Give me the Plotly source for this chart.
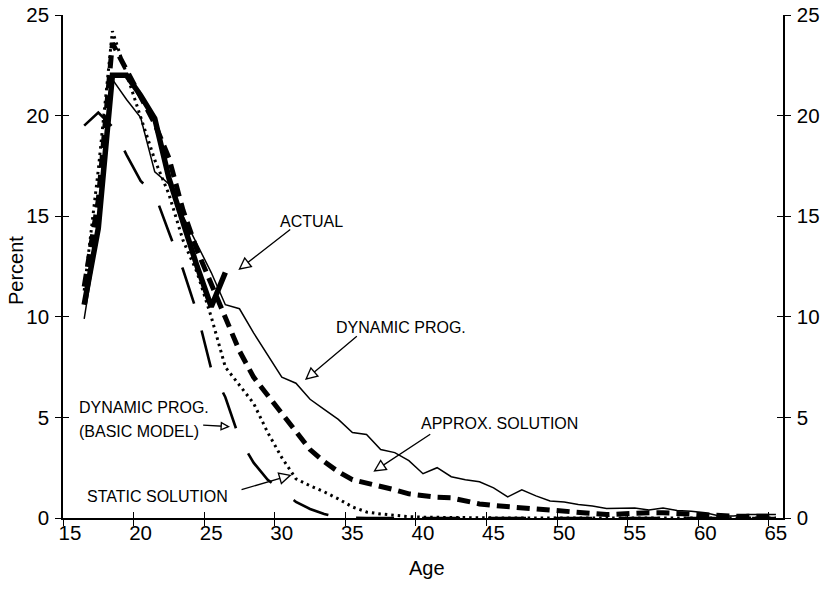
import math
import plotly.graph_objects as go

# ---------------- data ----------------
ages = list(range(16, 66))
ages_actual = list(range(16, 27))

actual = [10.6, 14.4, 22.0, 22.0, 21.0, 19.85, 16.9, 14.6, 12.5, 10.5, 12.2]

dynamic_prog = [9.9, 14.3, 21.8, 20.8, 19.9, 17.2, 16.6, 15.0, 13.6, 12.2,
                10.6, 10.4, 9.2, 8.1, 7.0, 6.7, 5.9, 5.4, 4.9, 4.25,
                4.15, 3.4, 3.25, 2.85, 2.2, 2.5, 2.05, 1.9, 1.8, 1.5,
                1.05, 1.4, 1.1, 0.85, 0.8, 0.67, 0.6, 0.47, 0.5, 0.5,
                0.4, 0.5, 0.37, 0.34, 0.26, 0.1, 0.1, 0.17, 0.17, 0.17]

approx_solution = [11.5, 15.8, 23.6, 22.3, 21.0, 19.6, 17.9, 15.3, 13.3, 11.6,
                   10.0, 8.3, 7.0, 6.1, 5.1, 4.2, 3.4, 2.8, 2.3, 1.9,
                   1.75, 1.58, 1.4, 1.2, 1.1, 1.03, 1.0, 0.85, 0.7, 0.62,
                   0.56, 0.5, 0.46, 0.42, 0.37, 0.28, 0.2, 0.17, 0.2, 0.25,
                   0.26, 0.26, 0.22, 0.17, 0.12, 0.09, 0.09, 0.09, 0.09, 0.09]

static_solution = [11.3, 17.3, 24.2, 22.1, 19.9, 17.8, 16.1, 13.8, 12.2, 10.0,
                   7.5, 6.6, 5.7, 4.25, 3.0, 1.95, 1.6, 1.3, 0.95, 0.55,
                   0.3, 0.2, 0.12, 0.07, 0.04, 0.03, 0.02, 0.0, 0.0, 0.0,
                   0.0, 0.0, 0.0, 0.0, 0.0, 0.0, 0.0, 0.0, 0.0, 0.0,
                   0.0, 0.0, 0.0, 0.0, 0.0, 0.0, 0.0, 0.0, 0.0, 0.0]

basic_model = [19.5, 20.15, 19.45, 18.05, 16.75, 16.1, 14.2, 12.35, 10.2, 7.4,
               6.0, 3.95, 2.75, 1.9, 1.35, 0.8, 0.45, 0.2, 0.03, 0.0,
               0.0, 0.0, 0.0, 0.0, 0.0, 0.0, 0.0, 0.0, 0.0, 0.0,
               0.0, 0.0, 0.0, 0.0, 0.0, 0.0, 0.0, 0.0, 0.0, 0.0,
               0.0, 0.0, 0.0, 0.0, 0.0, 0.0, 0.0, 0.0, 0.0, 0.0]

x_tick_labels = ["15", "20", "25", "30", "35", "40", "45", "50", "55", "60", "65"]
x_tick_bounds = [14.5, 19.5, 24.5, 29.5, 34.5, 39.5, 44.5, 49.5, 54.5, 59.5, 64.5]
y_ticks = [0, 5, 10, 15, 20, 25]

# ---------------- figure ----------------
FONT = "Liberation Sans, Arial, Helvetica, sans-serif"
W, H = 823, 586
ML, MR, MT, MB = 63, 40, 15, 68
XR = [14.5, 65.5]
YR = [0, 25]

fig = go.Figure()

# every axis (incl. the overlaid ones used for the crossing tick marks) carries a trace
fig.add_trace(go.Scatter(x=ages, y=dynamic_prog, mode="lines", xaxis="x", yaxis="y",
                         line=dict(color="black", width=1.5), name="Dynamic prog."))
fig.add_trace(go.Scatter(x=ages, y=basic_model, mode="lines", xaxis="x2", yaxis="y",
                         line=dict(color="black", width=2.6, dash="38px,28px"),
                         name="Dynamic prog. (basic model)"))
fig.add_trace(go.Scatter(x=ages, y=static_solution, mode="lines", xaxis="x", yaxis="y2",
                         line=dict(color="black", width=3, dash="2.5px,4px"),
                         name="Static solution"))
fig.add_trace(go.Scatter(x=ages, y=approx_solution, mode="lines", xaxis="x", yaxis="y3",
                         line=dict(color="black", width=5, dash="13px,7px"),
                         name="Approx. solution"))
fig.add_trace(go.Scatter(x=ages_actual, y=actual, mode="lines", xaxis="x", yaxis="y4",
                         line=dict(color="black", width=5.5), name="Actual"))

tickfont = dict(family=FONT, size=20.5, color="black")
common = dict(automargin=False, showgrid=False, zeroline=False, tickcolor="black",
              tickwidth=1.2, ticklen=6, tickmode="array", ticklabeloverflow="allow")

fig.update_layout(
    width=W, height=H,
    margin=dict(l=ML, r=MR, t=MT, b=MB, autoexpand=False),
    paper_bgcolor="white", plot_bgcolor="white",
    showlegend=False,
    font=dict(family=FONT, color="black"),
    xaxis=dict(range=XR, tickvals=x_tick_bounds, ticktext=x_tick_labels,
               ticklabelshift=7, ticks="outside",
               showline=True, linecolor="black", linewidth=1.5,
               tickfont=tickfont, ticklabelstandoff=-10, **common),
    xaxis2=dict(range=XR, overlaying="x", anchor="y", side="bottom",
                tickvals=x_tick_bounds, ticks="inside",
                showticklabels=False, showline=False, **common),
    yaxis=dict(range=YR, tickvals=y_ticks, ticks="outside", anchor="x",
               showline=True, linecolor="black", linewidth=1.5, tickfont=tickfont,
               ticklabelstandoff=2, **common),
    yaxis2=dict(range=YR, overlaying="y", anchor="x", side="right",
                tickvals=y_ticks, ticks="outside", ticklabelstandoff=2,
                showline=True, linecolor="black", linewidth=1.5, tickfont=tickfont, **common),
    yaxis3=dict(range=YR, overlaying="y", anchor="x", side="left",
                tickvals=y_ticks, ticks="inside",
                showticklabels=False, showline=False, **common),
    yaxis4=dict(range=YR, overlaying="y", anchor="x", side="right",
                tickvals=y_ticks, ticks="inside",
                showticklabels=False, showline=False, **common),
)

# pixel scale of the data axes (used only to orient the hollow arrow heads)
KX = (W - ML - MR) / (XR[1] - XR[0])
KY = (H - MT - MB) / (YR[1] - YR[0])

ann_font = dict(family=FONT, size=16, color="black")
title_font = dict(family=FONT, size=20, color="black")
annotations = [
    dict(text="Percent", xref="paper", yref="paper", x=-0.0653, y=0.493,
         textangle=-90, showarrow=False, xanchor="center", yanchor="middle", font=title_font),
    dict(text="Age", xref="paper", yref="paper", x=0.5056, y=-0.0994,
         showarrow=False, xanchor="center", yanchor="middle", font=title_font),
]


def label(text, x, y, xanchor="center"):
    annotations.append(dict(text=text, x=x, y=y, xref="x", yref="y", showarrow=False,
                            xanchor=xanchor, yanchor="middle", font=ann_font))


def hollow_arrow(tip_x, tip_y, tail_x, tail_y, scale=2.6, line_w=1.3):
    # black outer arrow (line + filled head)
    annotations.append(dict(text="", x=tip_x, y=tip_y, xref="x", yref="y",
                            ax=tail_x, ay=tail_y, axref="x", ayref="y",
                            showarrow=True, arrowhead=2, arrowwidth=line_w,
                            arrowsize=scale / line_w, arrowcolor="black", standoff=0))
    # white inner head -> hollow triangle look
    dx = (tail_x - tip_x) * KX
    dy = -(tail_y - tip_y) * KY
    d = math.hypot(dx, dy)
    ux, uy = dx / d, dy / d
    r = 1.545 * scale
    k = (r - 1.35) / r
    inner = scale * k
    back = 3.455 * (scale - inner)
    iw = 0.1
    annotations.append(dict(text="", x=tip_x, y=tip_y, xref="x", yref="y",
                            ax=ux * (back + 5.0 * inner), ay=uy * (back + 5.0 * inner),
                            showarrow=True, arrowhead=2, arrowwidth=iw,
                            arrowsize=inner / iw, arrowcolor="white", standoff=back))


label("ACTUAL", 32.12, 14.76)
hollow_arrow(26.92, 12.33, 30.7, 14.4)

label("DYNAMIC PROG.", 38.44, 9.47)
hollow_arrow(31.64, 6.86, 35.42, 9.1)

label("APPROX. SOLUTION", 45.45, 4.71)
hollow_arrow(36.48, 2.3, 40.62, 4.21)

label("DYNAMIC PROG.", 15.51, 5.49, xanchor="left")
label("(BASIC MODEL)", 15.51, 4.30, xanchor="left")
hollow_arrow(26.33, 4.54, 24.32, 4.62, scale=1.9)

label("STATIC SOLUTION", 16.06, 1.09, xanchor="left")
hollow_arrow(30.7, 2.14, 27.04, 1.39)

fig.update_layout(annotations=annotations)

# place the figure at the page's top-left corner (no default body margin), no mode bar
fig.write_html("out.html", config={"displayModeBar": False},
               post_script="document.body.style.margin='0px';")
